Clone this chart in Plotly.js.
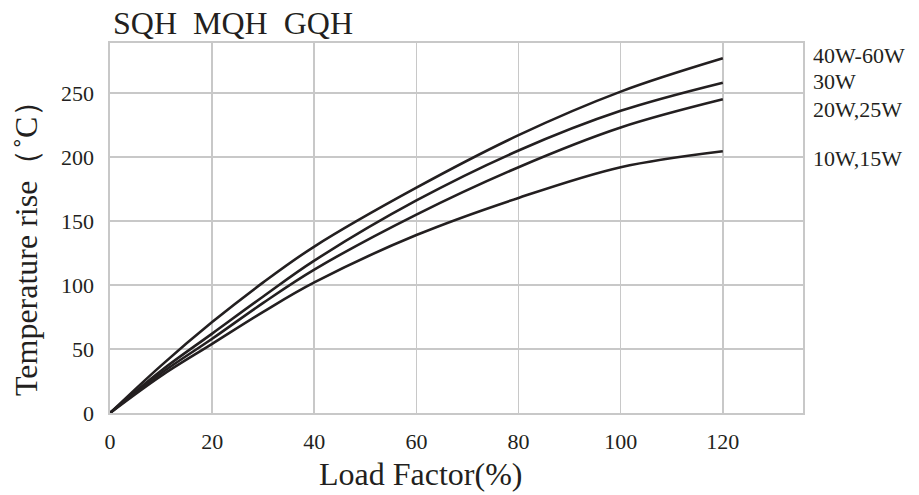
<!DOCTYPE html>
<html>
<head>
<meta charset="utf-8">
<script src="https://cdn.plot.ly/plotly-3.0.1.min.js"></script>
<style>html,body{margin:0;padding:0;background:#fff;}#chart{width:919px;height:495px;}</style>
</head>
<body>
<div id="chart"></div>
<script>
const loadFactor = [0, 10, 20, 30, 40, 60, 80, 100, 120];
const w40to60 = [0, 37, 71, 102, 130, 176, 217, 251, 277];
const w30 = [0, 33, 62, 91, 119, 166, 205, 236, 258];
const w20and25 = [0, 31, 58, 86, 112, 155, 192, 223, 245];
const w10and15 = [0, 29, 54, 79, 102, 139, 168, 192, 204.5];
const seriesNames = ["40W-60W", "30W", "20W,25W", "10W,15W"];
const labelY = [279, 259, 237, 199];
const xTicks = [0, 20, 40, 60, 80, 100, 120];
const yTicks = [0, 50, 100, 150, 200, 250];

const series = [w40to60, w30, w20and25, w10and15];
const font = "'Liberation Serif', 'DejaVu Serif', serif";
const ink = '#231f20';
const traces = series.map((ys, i) => ({
  x: loadFactor, y: ys, type: 'scatter', mode: 'lines', name: seriesNames[i],
  line: {color: ink, width: 2.6, shape: 'spline', smoothing: 1},
  hoverinfo: 'skip', cliponaxis: false
}));
const yMax = 289;
const annotations = seriesNames.map((n, i) => ({
  x: 1.012, y: labelY[i] / yMax, xref: 'paper', yref: 'paper', text: n, showarrow: false,
  xanchor: 'left', yanchor: 'middle', font: {family: font, size: 22, color: ink}
}));
annotations.push({
  x: (420 - 110) / 693, y: -(474 - 413) / 370, xref: 'paper', yref: 'paper',
  text: 'Load Factor(%)', showarrow: false, xanchor: 'center', yanchor: 'middle',
  font: {family: font, size: 32, color: ink}
});
annotations.push({
  x: -(110 - 26) / 693, y: (413 - 241) / 370, xref: 'paper', yref: 'paper',
  text: 'Temperature rise\uff08\u02daC\uff09', textangle: -90, showarrow: false,
  xanchor: 'center', yanchor: 'middle',
  font: {family: font, size: 32, color: ink}
});
const layout = {
  width: 919, height: 495,
  margin: {l: 110, r: 116, t: 43, b: 82, pad: 0},
  paper_bgcolor: '#fff', plot_bgcolor: '#fff',
  showlegend: false,
  font: {family: font, color: ink},
  title: {text: 'SQH\u00a0\u00a0MQH\u00a0\u00a0GQH', x: 113/919, xanchor: 'left', xref: 'container',
          y: 1 - 23/495, yanchor: 'middle', yref: 'container',
          font: {family: font, size: 32, color: ink}},
  xaxis: {range: [0, 135.7], tickvals: xTicks, ticktext: xTicks.map(String),
          showgrid: true, gridcolor: '#c8c8c8', gridwidth: 1.6, zeroline: false,
          showline: true, linecolor: '#c8c8c8', linewidth: 1.6, mirror: true,
          ticks: '', ticklabelstandoff: 8, tickfont: {family: font, size: 22, color: ink}},
  yaxis: {range: [0, yMax], tickvals: yTicks, ticktext: yTicks.map(String),
          showgrid: true, gridcolor: '#c8c8c8', gridwidth: 1.6, zeroline: false,
          showline: true, linecolor: '#c8c8c8', linewidth: 1.6, mirror: true,
          ticks: '', ticklabelstandoff: 10, tickfont: {family: font, size: 22, color: ink}},
  annotations: annotations
};
Plotly.newPlot('chart', traces, layout, {staticPlot: true, displayModeBar: false});
</script>
</body>
</html>
